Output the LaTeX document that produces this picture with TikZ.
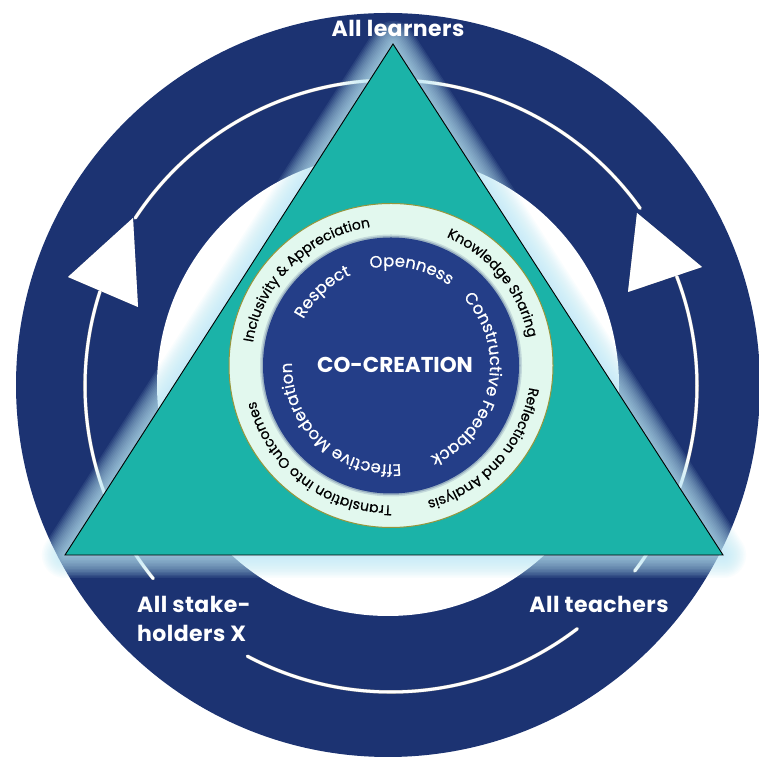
\documentclass[tikz,border=0pt]{standalone}
\usepackage{fontspec}
\setmainfont{Poppins}
\usetikzlibrary{decorations.text}

\definecolor{navy}{RGB}{28,51,114}
\definecolor{coreblue}{RGB}{36,62,136}
\definecolor{tealfill}{RGB}{27,179,168}
\definecolor{mint}{RGB}{226,248,238}
\definecolor{olivering}{RGB}{150,150,60}
\definecolor{glowc}{RGB}{190,234,248}

\newcommand\ringfont{\fontsize{14}{14}\selectfont\addfontfeature{FakeBold=0.6}}
\newcommand\corefont{\fontsize{16.5}{16.5}\selectfont\addfontfeature{FakeBold=0.5}}

\tikzset{
  cycleline/.style={white, line width=3, line cap=round},
  cycleshadow/.style={black!45, line width=3.6, line cap=round, xshift=0.8, yshift=-1.2},
  arrowtip/.style={fill=white},
  arrowshadow/.style={fill=black!40, xshift=1.2, yshift=-1.5},
  label/.style={text=white, font=\bfseries\fontsize{22}{22}\selectfont\addfontfeature{LetterSpace=2}, inner sep=0},
  outertext/.style={decorate, decoration={text along path, text align=center,
      text color=black, text={#1}}},
  innertext/.style={decorate, decoration={text along path, text align=center,
      text color=white, text={#1}}},
}

\begin{document}
\begin{tikzpicture}[x=1pt,y=1pt]
\useasboundingbox (0,0) rectangle (758,759);
\fill[white] (0,0) rectangle (758,759);

% centres
\coordinate (O) at (388,374);   % outer ring
\coordinate (A) at (391,373);   % thin cycle line
\coordinate (M) at (391,393.5); % core rings

% dark outer ring
\fill[navy] (O) circle[radius=372];
\fill[white] (O) circle[radius=231];

% thin cycle line, drawn in pieces around the ring
\foreach \s/\e in {146.7/35.5, 162/219, 21/-37.2, 242/307.5} {
  \draw[cycleshadow] (A) ++(\s:306) arc[start angle=\s, end angle=\e, radius=306];
  \draw[cycleline]   (A) ++(\s:306) arc[start angle=\s, end angle=\e, radius=306];
}

% arrow heads on the cycle line
\coordinate (la1) at (133,541);
\coordinate (la2) at (68,482);
\coordinate (la3) at (138,452);
\coordinate (ra1) at (637,546);
\coordinate (ra2) at (702,492);
\coordinate (ra3) at (628,467);
\fill[arrowshadow] (la1) -- (la2) -- (la3) -- cycle;
\fill[arrowtip]    (la1) -- (la2) -- (la3) -- cycle;
\fill[arrowshadow] (ra1) -- (ra2) -- (ra3) -- cycle;
\fill[arrowtip]    (ra1) -- (ra2) -- (ra3) -- cycle;

% triangle with a soft light glow
\coordinate (T1) at (65,204);
\coordinate (T2) at (723,204);
\coordinate (T3) at (393,715);
\begin{scope}[yshift=-3]
\foreach \w in {46,43,...,4} {
  \draw[glowc, line width=\w, opacity=0.085, line join=round] (T1) -- (T2) -- (T3) -- cycle;
}
\end{scope}
\filldraw[fill=tealfill, draw=black, line width=0.9, line join=miter] (T1) -- (T2) -- (T3) -- cycle;

% light ring and blue core
\filldraw[fill=mint, draw=olivering, line width=1] (M) circle[radius=162];
\foreach \w/\o in {6/0.15, 3/0.25} {
  \draw[navy, line width=\w, opacity=\o] (M) circle[radius=128];
}
\fill[coreblue] (M) circle[radius=128];

% values in the light ring
\path[outertext={|\ringfont|Inclusivity {\&} Appreciation}]
  (M) ++(214.5:140) arc[start angle=214.5, end angle=54.5, radius=140];
\path[outertext={|\ringfont|Knowledge Sharing}]
  (M) ++(119:140) arc[start angle=119, end angle=-41, radius=140];
\path[outertext={|\ringfont|Reflection and Analysis}]
  (M) ++(38:140) arc[start angle=38, end angle=-122, radius=140];
\path[outertext={|\ringfont|Translation into Outcomes}]
  (M) ++(312.5:140) arc[start angle=312.5, end angle=152.5, radius=140];

% values in the core
\path[innertext={|\corefont|Openness}]
  (M) ++(158:99) arc[start angle=158, end angle=-2, radius=99];
\path[innertext={|\corefont|Respect}]
  (M) ++(213:99) arc[start angle=213, end angle=53, radius=99];
\path[innertext={|\corefont|Constructive Feedback}]
  (M) ++(68.3:99) arc[start angle=68.3, end angle=-91.7, radius=99];
\path[innertext={|\corefont|Effective Moderation}]
  (M) ++(307:99) arc[start angle=307, end angle=147, radius=99];

\node[label, font=\bfseries\fontsize{21.5}{21.5}\selectfont] (core) at (395,394.5) {CO-CREATION};

% group labels
\node[label, anchor=base] (learners) at (398,722) {All learners};
\node[label, anchor=base] (teachers) at (599,146) {All teachers};
\node[label, anchor=base west] (stakeA) at (137,146) {All stake-};
\node[label, anchor=base west] (stakeB) at (137,117) {holders X};
\end{tikzpicture}
\end{document}
